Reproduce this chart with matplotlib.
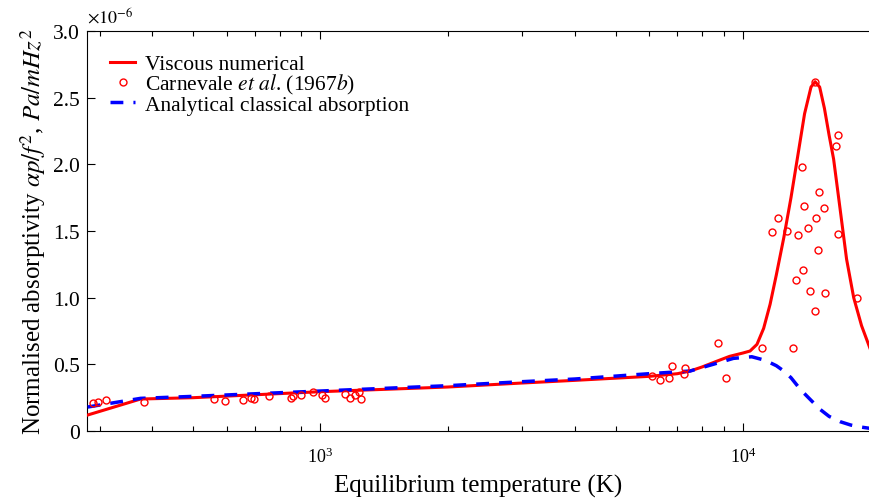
import matplotlib
matplotlib.use('Agg')
import matplotlib.pyplot as plt
import numpy as np
from matplotlib.ticker import FuncFormatter, MultipleLocator

plt.rcParams['font.family'] = ['Liberation Serif', 'DejaVu Serif']
plt.rcParams['mathtext.fontset'] = 'stix'
plt.rcParams['font.size'] = 13

# viscous numerical curve (T in K, absorptivity in 1e-6 units)
visc_T = [281, 375, 500, 1000, 2000, 3000, 4000, 6000, 7000, 7500, 8000, 8700,
          9300, 10000, 10400, 10800, 11200, 11600, 12000, 12500, 13000, 13500,
          14000, 14500, 14830, 15200, 15600, 16000, 16400, 17000, 17600, 18300,
          19100, 20000]
visc_val = [0.12, 0.24, 0.25, 0.295, 0.33, 0.36, 0.38, 0.41, 0.43, 0.45, 0.48, 0.525,
            0.56, 0.585, 0.60, 0.65, 0.77, 0.95, 1.17, 1.45, 1.75, 2.07,
            2.38, 2.58, 2.62, 2.58, 2.42, 2.22, 2.04, 1.66, 1.29, 1.00,
            0.79, 0.62]

# analytical classical absorption
anal_T = [281, 375, 500, 1000, 2000, 3000, 4000, 6000, 7500, 8500, 9500, 10500,
          11300, 12000, 12500, 13000, 13700, 14300, 15200, 16000, 17000, 18000,
          19000, 20000]
anal_val = [0.18, 0.245, 0.26, 0.30, 0.34, 0.37, 0.39, 0.43, 0.45, 0.50, 0.545, 0.557,
            0.53, 0.49, 0.45, 0.40, 0.31, 0.25, 0.165, 0.11, 0.07, 0.045,
            0.03, 0.02]

# Carnevale et al. (1967b) measurements
carn_T = [290, 297, 310, 382, 559, 594, 657, 686, 695, 757, 852, 860, 898, 959,
          1007, 1024, 1142, 1173, 1204, 1232, 1248,
          6090, 6350, 6670, 6790, 7240, 7280, 8755, 9130, 11130, 13130,
          14830, 16810, 16620, 13810, 15150, 13960, 15600, 12120, 14940, 11730,
          12750, 13540, 14300, 16840, 15050, 13910, 13350, 14450, 15630, 18610,
          14850]
carn_val = [0.21, 0.22, 0.23, 0.22, 0.24, 0.225, 0.23, 0.25, 0.24, 0.26, 0.25, 0.26,
            0.27, 0.29, 0.27, 0.25, 0.28, 0.25, 0.27, 0.29, 0.24,
            0.41, 0.38, 0.40, 0.49, 0.425, 0.47, 0.66, 0.40, 0.625, 0.62,
            2.62, 2.22, 2.14, 1.98, 1.79, 1.685, 1.675, 1.60, 1.60, 1.49,
            1.50, 1.47, 1.52, 1.475, 1.36, 1.21, 1.13, 1.05, 1.035, 0.995,
            0.90]

fig = plt.figure(figsize=(8.7, 5.02), dpi=100)
ax = fig.add_axes([0.1, 0.1394, 0.9, 0.7968])

ax.plot(visc_T, visc_val, color='red', lw=2.2, label='Viscous numerical', zorder=3)
ax.plot(carn_T, carn_val, 'o', mfc='none', mec='red', ms=5, mew=1.0,
        label=r'Carnevale $et$ $al$. (1967$b$)', zorder=4)
ax.plot(anal_T, anal_val, color='blue', lw=2.5, dashes=(3.7, 2.9),
        label='Analytical classical absorption', zorder=3)

ax.set_xscale('log')
ax.set_xlim(280, 20000)
ax.set_ylim(0, 3.0)
ax.yaxis.set_major_locator(MultipleLocator(0.5))
ax.yaxis.set_major_formatter(FuncFormatter(lambda v, p: '0' if v == 0 else '%.1f' % v))
ax.text(0.0, 1.012, r'$\times 10^{-6}$', transform=ax.transAxes, ha='left', va='bottom',
        fontsize=13)

ax.tick_params(which='both', direction='in', top=True, right=False)
ax.tick_params(which='major', length=6, width=0.8)
ax.tick_params(which='minor', length=3.5, width=0.8)
ax.tick_params(axis='x', labelsize=13, pad=11)
ax.tick_params(axis='y', labelsize=15.5, pad=5)
ax.spines['right'].set_visible(False)

ax.set_xlabel('Equilibrium temperature (K)', fontsize=18, labelpad=6)
ax.set_ylabel(r'Normalised absorptivity $\alpha p/f^2$, $Pa/mHz^2$', fontsize=18)

ax.legend(loc='upper left', frameon=False, fontsize=15.5, handlelength=1.16,
          handletextpad=0.47, labelspacing=-0.08, borderaxespad=0.67)

plt.savefig('out.png', dpi=100)
